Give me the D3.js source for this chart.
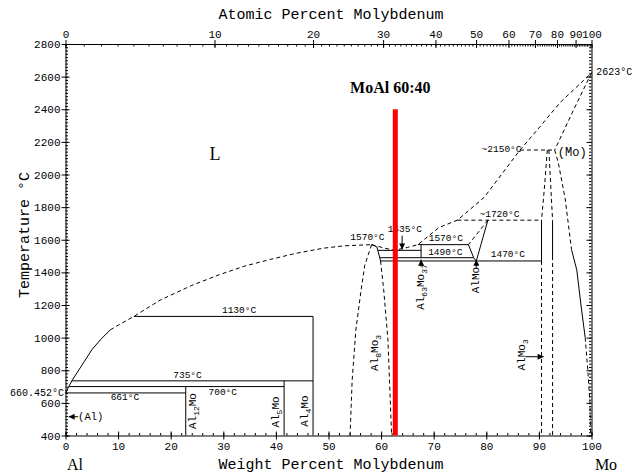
<!DOCTYPE html>
<html>
<head>
<meta charset="utf-8">
<script src="https://d3js.org/d3.v7.min.js"></script>
<style>
body{margin:0;background:#fff;}
svg text{font-family:"Liberation Mono",monospace;fill:#000;}
</style>
</head>
<body>
<svg id="chart" width="632" height="473"></svg>
<script>
// boundaries, [weight % Mo, temperature °C]
var liqAl      = [[0,660.452],[1.2,735],[3.5,850],[5,925],[6.6,986],[8.5,1047]];
var liqLeft    = [[8.5,1047],[10.1,1078],[13,1130],[18,1230],[24,1320],[29,1383],[34,1438],[39,1480],[44,1518],[49,1548],[53,1563],[58.2,1570]];
var liqRight   = [[58.2,1570],[60.5,1550],[62.5,1535],[65,1553],[67,1570],[71,1675],[74.5,1720],[79.6,1860],[86.4,2150],[89.6,2270],[94,2440],[100,2623]];
var moSolidus  = [[100,2623],[96.5,2390],[93,2150]];
var moSolvusA  = [[93,2150],[93.7,2070],[95,1850],[96.2,1540]];
var moSolvusB  = [[96.2,1540],[97.2,1415],[98,1200],[98.8,1000]];
var moSolvusC  = [[98.8,1000],[99.3,800],[99.7,600],[99.85,400]];
var al8mo3L    = [[58.2,1570],[56.9,1445],[56.2,1292],[55.2,1047],[54.5,740],[54.1,400]];
var al8mo3Rtop = [[58.2,1570],[59.2,1556],[59.9,1470]];
var al8mo3Rlow = [[59.9,1470],[60.5,1292],[61.3,985],[62,400]];
var iso661  = [[0,661],[22.86,661]];
var iso700  = [[0.7,700],[41.56,700]];
var iso735  = [[1.2,735],[47.06,735]];
var iso1130 = [[13,1130],[47.06,1130]];
var al12mo  = [[22.86,700],[22.86,400]];
var al5mo   = [[41.56,735],[41.56,400]];
var al4mo   = [[47.06,1130],[47.06,400]];
var iso1535 = [[59.4,1535],[67.6,1535]];
var iso1570 = [[67,1570],[76.6,1570]];
var iso1490 = [[59.8,1490],[77.6,1490]];
var iso1470 = [[59.9,1470],[90.5,1470]];
var al63mo37 = [[67.6,1570],[67.6,1490]];
var iso1720 = [[74.5,1720],[90.5,1720]];
var iso2150 = [[86.4,2150],[93,2150]];
var alMoL   = [[80.3,1720],[76.6,1570]];
var alMoLlow = [[76.6,1570],[77.6,1490],[78.1,1470]];
var alMoR   = [[80.3,1720],[78.1,1470]];
var alMo3Ltop = [[91.6,2150],[91,1900],[90.5,1720]];
var alMo3Lmid = [[90.5,1720],[90.5,1470]];
var alMo3Llow = [[90.5,1470],[90.5,400]];
var alMo3Rtop = [[91.9,2150],[92.3,1900],[92.6,1720]];
var alMo3Rmid = [[92.6,1720],[92.6,1500]];
var alMo3Rlow = [[92.6,1500],[92.6,400]];
var sample  = [[62.7,400],[62.7,2400]];

var solidLines  = [liqAl, moSolvusB, al8mo3Rtop, iso661, iso700, iso735, iso1130, al12mo, al5mo, al4mo,
                   iso1535, iso1570, iso1490, iso1470, al63mo37, alMoLlow, alMoR, alMo3Lmid, alMo3Rmid];
var dashedLines = [liqLeft, liqRight, moSolidus, moSolvusA, moSolvusC, al8mo3L, al8mo3Rlow, iso1720, iso2150,
                   alMoL, alMo3Ltop, alMo3Llow, alMo3Rtop, alMo3Rlow];

// axis ticks
var wtMajor = d3.range(0,101,10);
var wtMinor = d3.range(0,101,2);
var tMajor  = d3.range(400,2801,200);
var tMinor  = d3.range(400,2801,20);
var atMajor = d3.range(0,101,10);
var atMinor = d3.range(0,101,1);

var MO=95.95, AL=26.98;
function at2wt(a){ return a*MO/(a*MO+(100-a)*AL)*100; }

var svg=d3.select('#chart');
var x=d3.scaleLinear().domain([0,100]).range([65.5,591.5]);
var y=d3.scaleLinear().domain([400,2800]).range([435.5,44]);
var line=d3.line().x(function(d){return x(d[0]);}).y(function(d){return y(d[1]);});
var plain=function(d){return String(d);};

var defs=svg.append('defs');
defs.append('marker').attr('id','arr').attr('viewBox','0 0 10 10').attr('refX',10).attr('refY',5)
	.attr('markerWidth',7).attr('markerHeight',6).attr('markerUnits','userSpaceOnUse').attr('orient','auto')
	.append('path').attr('d','M0,0L10,5L0,10z').attr('fill','#000');

function styleAxis(g,size){
	g.attr('font-family','Liberation Mono, monospace').attr('font-size',size||11);
	g.selectAll('path,line').attr('stroke','#000');
	return g;
}

// bottom axis
var gb=svg.append('g').attr('transform','translate(0,435.5)')
	.call(d3.axisBottom(x).tickValues(wtMajor).tickFormat(plain).tickSize(4).tickSizeOuter(0).tickPadding(3));
gb.selectAll('.tick line').attr('y1',-4);
styleAxis(gb);
var gbm=svg.append('g').attr('transform','translate(0,435.5)')
	.call(d3.axisBottom(x).tickValues(wtMinor).tickSize(-2.5).tickFormat(''));
gbm.select('.domain').remove(); styleAxis(gbm);

// top axis, atomic percent
var gt=svg.append('g').attr('transform','translate(0,44)')
	.call(d3.axisTop(x).tickValues(atMajor.map(at2wt)).tickFormat(function(d,i){return atMajor[i];})
	.tickSize(4).tickSizeOuter(0).tickPadding(2));
gt.selectAll('.tick line').attr('y1',4);
styleAxis(gt);
var gtm=svg.append('g').attr('transform','translate(0,44)')
	.call(d3.axisTop(x).tickValues(atMinor.map(at2wt)).tickSize(-2.5).tickFormat(''));
gtm.select('.domain').remove(); styleAxis(gtm);

// left axis
var gl=svg.append('g').attr('transform','translate(65.5,0)')
	.call(d3.axisLeft(y).tickValues(tMajor).tickFormat(plain).tickSize(4).tickSizeOuter(0).tickPadding(1));
gl.selectAll('.tick line').attr('x1',4);
styleAxis(gl);
var glm=svg.append('g').attr('transform','translate(65.5,0)')
	.call(d3.axisLeft(y).tickValues(tMinor).tickSize(-2.5).tickFormat(''));
glm.select('.domain').remove(); styleAxis(glm);

// right axis
var gr=svg.append('g').attr('transform','translate(591.5,0)')
	.call(d3.axisRight(y).tickValues(tMajor).tickSize(-5).tickSizeOuter(0).tickFormat(''));
styleAxis(gr);
var grm=svg.append('g').attr('transform','translate(591.5,0)')
	.call(d3.axisRight(y).tickValues(tMinor).tickSize(-2.5).tickFormat(''));
grm.select('.domain').remove(); styleAxis(grm);

// axis titles
svg.append('text').attr('x',331).attr('y',19).attr('text-anchor','middle').attr('font-size',15).text('Atomic Percent Molybdenum');
svg.append('text').attr('x',331).attr('y',469).attr('text-anchor','middle').attr('font-size',15).text('Weight Percent Molybdenum');
svg.append('text').attr('transform','translate(29,235) rotate(-90)').attr('text-anchor','middle').attr('font-size',15).text('Temperature °C');
svg.append('text').attr('x',75).attr('y',470).attr('text-anchor','middle').attr('font-size',16)
	.style('font-family','Liberation Serif, serif').text('Al');
svg.append('text').attr('x',606).attr('y',470).attr('text-anchor','middle').attr('font-size',16)
	.style('font-family','Liberation Serif, serif').text('Mo');
svg.append('text').attr('x',64).attr('y',395.5).attr('text-anchor','end').attr('font-size',10).text('660.452°C');

// phase boundaries
svg.append('g').selectAll('path').data(solidLines).join('path')
	.attr('d',line).attr('fill','none').attr('stroke','#000').attr('stroke-width',1);
svg.append('g').selectAll('path').data(dashedLines).join('path')
	.attr('d',line).attr('fill','none').attr('stroke','#000').attr('stroke-width',1).attr('stroke-dasharray','4,3');

function note(txt,w,t,anchor,size){
	return svg.append('text').attr('x',x(w)).attr('y',y(t)).attr('text-anchor',anchor||'middle')
		.attr('font-size',size||9.5).text(txt);
}
function arrow(w1,t1,w2,t2){
	svg.append('line').attr('x1',x(w1)).attr('y1',y(t1)).attr('x2',x(w2)).attr('y2',y(t2))
		.attr('stroke','#000').attr('stroke-width',1).attr('marker-end','url(#arr)');
}
function phase(parts,w,t){
	var tx=svg.append('text').attr('transform','translate('+(x(w)+4)+','+y(t)+') rotate(-90)')
		.attr('text-anchor','middle').attr('font-size',11);
	var down=false;
	parts.forEach(function(p){
		var sub=/^\d+$/.test(p);
		var s=tx.append('tspan').text(p);
		if(sub){ s.attr('font-size',8).attr('dy',3); down=true; }
		else if(down){ s.attr('dy',-3); down=false; }
	});
}

note('L',28.4,2090,'middle',18).style('font-family','Liberation Serif, serif');
note('1130°C',33,1151);
note('735°C',23.2,752);
note('700°C',29.9,648);
note('661°C',11.3,618);
note('1570°C',57.4,1599);
note('1535°C',64.5,1648);
note('1570°C',72.3,1593);
note('1490°C',72.2,1507);
note('1470°C',84.1,1494);
note('~1720°C',82.5,1740);
note('~2150°C',86.7,2138,'end');
note('(Mo)',93.6,2113,'start',12);
note('2623°C',100.9,2612,'start',10);
note('(Al)',2.4,495,'start',10.5);

arrow(2.4,515,0.6,515);
arrow(87.4,883,90.9,883);
arrow(64.0,1625,64.0,1540);
arrow(67.6,1435,67.6,1478);
arrow(78.1,1430,78.1,1478);

phase(['Al','12','Mo'],24.1,550);
phase(['Al','5','Mo'],39.8,544);
phase(['Al','4','Mo'],45.3,550);
phase(['Al','8','Mo','3'],58.6,906);
phase(['Al','63','Mo','37'],67.4,1310);
phase(['AlMo'],77.9,1353);
phase(['AlMo','3'],86.6,894);

// sample composition
svg.append('path').datum(sample).attr('d',line).attr('stroke','#ff0000').attr('stroke-width',5).attr('fill','none');
svg.append('text').attr('x',x(sample[0][0])-5).attr('y',93).attr('text-anchor','middle')
	.attr('font-size',16).attr('font-weight','bold').style('font-family','Liberation Serif, serif').text('MoAl 60:40');
</script>
</body>
</html>
